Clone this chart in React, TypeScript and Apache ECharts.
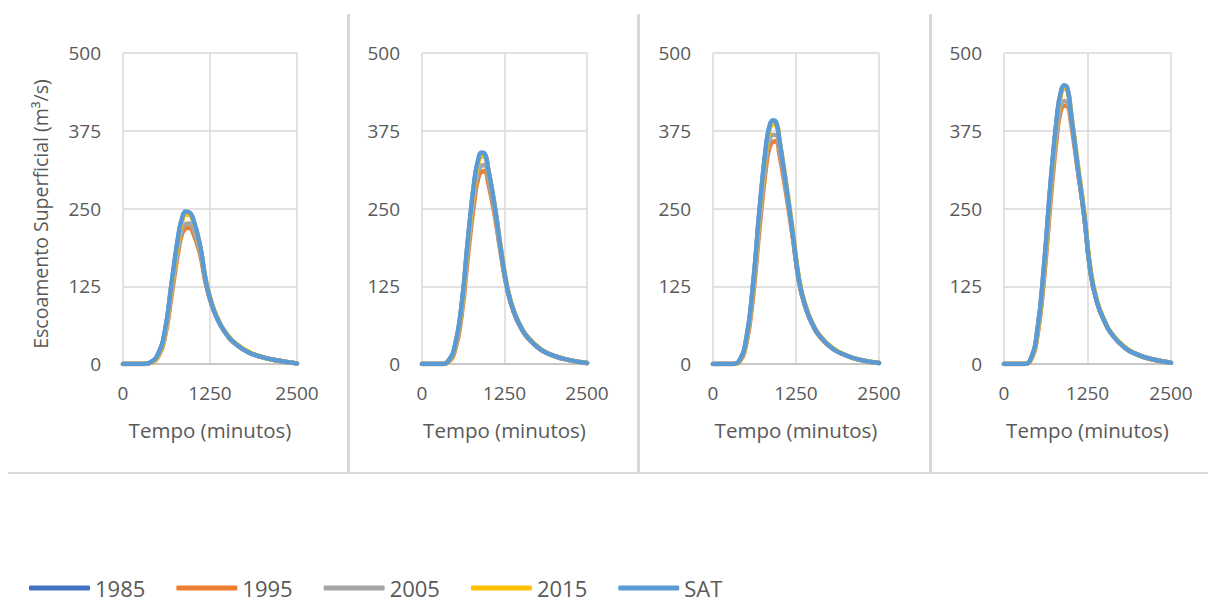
import React, { useEffect, useRef } from "react";
import * as echarts from "echarts";

const TIME = [0, 300, 400, 500, 600, 700, 800, 850, 900, 950, 1000, 1100, 1200, 1300, 1400, 1500, 1600, 1800, 2000, 2200, 2500];

const SERIES_NAMES = ["1985", "1995", "2005", "2015", "SAT"];
const COLORS = ["#4472C4", "#ED7D31", "#A5A5A5", "#FFC000", "#5B9BD5"];

// Panel 1
const P1_1985 = [0, 0, 3, 15, 51, 130, 208, 233, 243, 242, 234, 193, 127, 88, 63, 46, 34, 19, 11, 6, 1];
const P1_1995 = [0, 0, 2, 11, 42, 112, 185, 210, 218, 219, 213, 180, 124, 87, 63, 46, 34, 19, 11, 6, 1];
const P1_2005 = [0, 0, 2, 12, 45, 118, 192, 217, 225, 226, 219, 185, 126, 88, 63, 46, 34, 19, 11, 6, 1];
const P1_2015 = [0, 0, 2, 13, 48, 125, 203, 230, 240, 240, 233, 193, 130, 90, 64, 47, 35, 20, 11, 6, 1];
const P1_SAT = [0, 0, 3, 15, 52, 132, 210, 235, 245, 244, 236, 195, 128, 88, 63, 46, 34, 19, 11, 6, 1];

// Panel 2
const P2_1985 = [0, 0, 5, 29, 94, 203, 298, 326, 338, 337, 314, 254, 179, 118, 82, 59, 43, 23, 13, 7, 1.5];
const P2_1995 = [0, 0, 3, 22, 78, 178, 268, 298, 309, 310, 293, 240, 174, 116, 81, 58, 42, 23, 13, 7, 1.5];
const P2_2005 = [0, 0, 4, 25, 84, 188, 280, 308, 319, 320, 302, 246, 176, 117, 81, 58, 43, 23, 13, 7, 1.5];
const P2_2015 = [0, 0, 4, 28, 90, 198, 292, 322, 333, 333, 314, 256, 183, 120, 83, 60, 44, 24, 13, 7, 1.5];
const P2_SAT = [0, 0, 5, 30, 95, 205, 300, 328, 340, 338, 315, 255, 180, 118, 82, 59, 43, 23, 13, 7, 1.5];

// Panel 3
const P3_1985 = [0, 0, 6, 39, 123, 246, 350, 380, 390, 388, 359, 287, 209, 132, 90, 64, 46, 25, 14, 7, 1.5];
const P3_1995 = [0, 0, 4, 32, 105, 218, 318, 348, 357, 358, 337, 275, 205, 130, 89, 63, 45, 25, 14, 7, 1.5];
const P3_2005 = [0, 0, 5, 35, 112, 228, 330, 360, 368, 368, 346, 280, 207, 131, 89, 63, 46, 25, 14, 7, 1.5];
const P3_2015 = [0, 0, 5, 38, 120, 240, 345, 375, 385, 385, 360, 292, 215, 135, 92, 65, 47, 26, 14, 7, 1.5];
const P3_SAT = [0, 0, 6, 40, 125, 248, 352, 382, 392, 389, 360, 288, 210, 132, 90, 64, 46, 25, 14, 7, 1.5];

// Panel 4
const P4_1985 = [0, 0, 8, 54, 158, 293, 403, 435, 446, 442, 404, 320, 240, 145, 97, 70, 50, 27, 15, 8, 2];
const P4_1995 = [0, 0, 6, 45, 138, 265, 375, 407, 415, 414, 390, 315, 238, 145, 97, 70, 50, 27, 15, 8, 2];
const P4_2005 = [0, 0, 7, 48, 145, 275, 385, 415, 423, 421, 395, 318, 239, 145, 97, 70, 50, 27, 15, 8, 2];
const P4_2015 = [0, 0, 7, 52, 153, 287, 400, 432, 443, 440, 407, 326, 245, 149, 99, 71, 51, 28, 15, 8, 2];
const P4_SAT = [0, 0, 8, 55, 160, 295, 405, 437, 448, 443, 405, 320, 240, 145, 97, 70, 50, 27, 15, 8, 2];

const PANELS = [
  [P1_1985, P1_1995, P1_2005, P1_2015, P1_SAT],
  [P2_1985, P2_1995, P2_2005, P2_2015, P2_SAT],
  [P3_1985, P3_1995, P3_2005, P3_2015, P3_SAT],
  [P4_1985, P4_1995, P4_2005, P4_2015, P4_SAT],
];

const X_TICKS = [0, 1250, 2500];
const Y_TICKS = [0, 125, 250, 375, 500];

const X_TITLE = "Tempo (minutos)";
const Y_TITLE = "Escoamento Superficial (m³/s)";

const FONT = "'Open Sans', 'Noto Sans', sans-serif";
const TEXT_COLOR = "#595959";
const GRID_COLOR = "#d9d9d9";

const GRID_LEFTS = [123, 422, 713, 1004];
const GRID_WIDTHS = [174, 165, 166, 167];
const DIVIDERS = [347, 637, 929];

export default function App() {
  const ref = useRef<HTMLDivElement>(null);

  useEffect(() => {
    if (!ref.current) return;
    const chart = echarts.init(ref.current, undefined, { renderer: "svg" });

    const grids = GRID_LEFTS.map((left, i) => ({
      left,
      top: 53,
      width: GRID_WIDTHS[i],
      height: 311,
      containLabel: false,
    }));

    const xAxes = GRID_LEFTS.map((_, i) => ({
      type: "value",
      gridIndex: i,
      min: X_TICKS[0],
      max: X_TICKS[X_TICKS.length - 1],
      interval: X_TICKS[1] - X_TICKS[0],
      name: X_TITLE,
      nameLocation: "middle",
      nameGap: 55,
      nameTextStyle: { color: TEXT_COLOR, fontSize: 20.5, fontFamily: FONT },
      axisLine: { show: true, lineStyle: { color: "#bfbfbf", width: 1.5 } },
      axisTick: { show: false },
      axisLabel: {
        color: TEXT_COLOR,
        fontSize: 19,
        fontFamily: FONT,
        margin: 19,
        formatter: (v: number) => String(v),
      },
      splitLine: { show: true, lineStyle: { color: GRID_COLOR, width: 1.5 } },
    }));

    const yAxes = GRID_LEFTS.map((_, i) => ({
      type: "value",
      gridIndex: i,
      min: Y_TICKS[0],
      max: Y_TICKS[Y_TICKS.length - 1],
      interval: Y_TICKS[1] - Y_TICKS[0],
      axisLine: { show: false },
      axisTick: { show: false },
      axisLabel: {
        color: TEXT_COLOR,
        fontSize: 19,
        fontFamily: FONT,
        margin: 22,
        formatter: (v: number) => String(v),
      },
      splitLine: { show: true, lineStyle: { color: GRID_COLOR, width: 1.5 } },
    }));

    const series: any[] = [];
    PANELS.forEach((panel, pi) => {
      panel.forEach((vals, si) => {
        series.push({
          type: "line",
          name: SERIES_NAMES[si],
          xAxisIndex: pi,
          yAxisIndex: pi,
          data: TIME.map((t, k) => [t, vals[k]]),
          smooth: 0.5,
          showSymbol: false,
          symbol: "none",
          lineStyle: { width: 4.5, color: COLORS[si], cap: "round", join: "round" },
          itemStyle: { color: COLORS[si] },
          z: 2 + si,
        });
      });
    });

    const graphics: any[] = DIVIDERS.map((x) => ({
      type: "rect",
      shape: { x, y: 14, width: 3, height: 459 },
      style: { fill: GRID_COLOR },
      silent: true,
    }));
    graphics.push({
      type: "rect",
      shape: { x: 8, y: 472, width: 1200, height: 2 },
      style: { fill: GRID_COLOR },
      silent: true,
    });
    graphics.push({
      type: "text",
      x: 40,
      y: 214,
      rotation: Math.PI / 2,
      style: {
        text: Y_TITLE,
        fill: TEXT_COLOR,
        fontSize: 19.5,
        fontFamily: FONT,
        align: "center",
        verticalAlign: "middle",
      },
      silent: true,
    });

    chart.setOption({
      animation: false,
      backgroundColor: "#ffffff",
      grid: grids,
      xAxis: xAxes,
      yAxis: yAxes,
      series,
      legend: {
        data: SERIES_NAMES,
        left: 29,
        top: 577,
        padding: 0,
        icon: "roundRect",
        itemWidth: 61,
        itemHeight: 5,
        itemGap: 31,
        textStyle: {
          color: TEXT_COLOR,
          fontSize: 22,
          lineHeight: 22,
          fontFamily: FONT,
          padding: [0, 0, 0, 0],
        },
      },
      graphic: graphics,
    });

    return () => chart.dispose();
  }, []);

  return (
    <div
      ref={ref}
      style={{ position: "fixed", left: 0, top: 0, width: 1208, height: 603, background: "#fff" }}
    />
  );
}
